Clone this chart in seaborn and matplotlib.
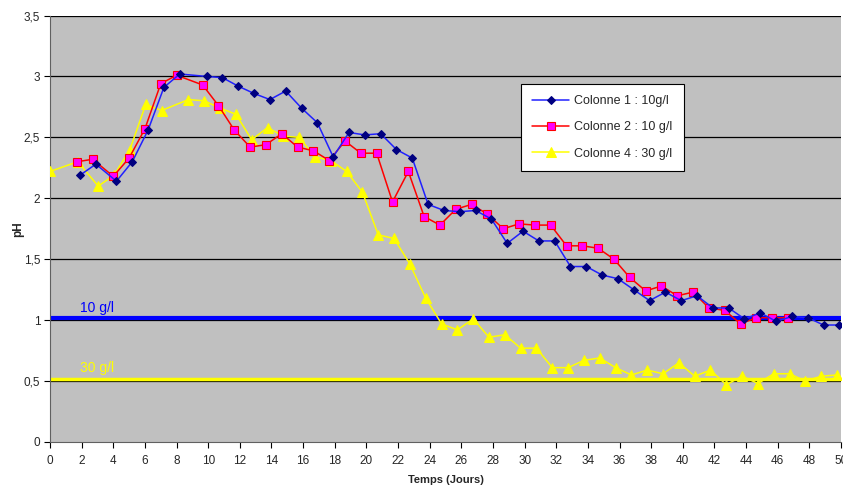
import matplotlib
matplotlib.use("Agg")
import matplotlib.pyplot as plt
import seaborn as sns

# Colonne 1 : 10g/l
c1_jours = [1.9, 2.9, 4.2, 5.2, 6.2, 7.2, 8.2, 9.9, 10.9, 11.9, 12.9, 13.9, 14.9, 15.9,
            16.9, 17.9, 18.9, 19.9, 20.9, 21.9, 22.9, 23.9, 24.9, 25.9, 26.9, 27.9, 28.9,
            29.9, 30.9, 31.9, 32.9, 33.9, 34.9, 35.9, 36.9, 37.9, 38.9, 39.9, 40.9, 41.9,
            42.9, 43.9, 44.9, 45.9, 46.9, 47.9, 48.9, 49.9]
c1_ph = [2.19, 2.28, 2.14, 2.30, 2.56, 2.91, 3.02, 3.00, 2.99, 2.92, 2.86, 2.81, 2.88, 2.74,
         2.62, 2.34, 2.54, 2.52, 2.53, 2.40, 2.33, 1.95, 1.90, 1.89, 1.90, 1.83, 1.63,
         1.73, 1.65, 1.65, 1.44, 1.44, 1.37, 1.34, 1.25, 1.16, 1.23, 1.16, 1.20, 1.10,
         1.10, 1.01, 1.06, 0.99, 1.03, 1.02, 0.96, 0.96]

# Colonne 2 : 10 g/l
c2_jours = [1.7, 2.7, 4.0, 5.0, 6.0, 7.0, 8.0, 9.65, 10.65, 11.65, 12.65, 13.65, 14.65,
            15.65, 16.65, 17.65, 18.65, 19.65, 20.65, 21.65, 22.65, 23.65, 24.65, 25.65,
            26.65, 27.65, 28.65, 29.65, 30.65, 31.65, 32.65, 33.65, 34.65, 35.65, 36.65,
            37.65, 38.65, 39.65, 40.65, 41.65, 42.65, 43.65, 44.65, 45.65, 46.65]
c2_ph = [2.30, 2.32, 2.18, 2.33, 2.57, 2.94, 3.01, 2.93, 2.76, 2.56, 2.42, 2.44, 2.53,
         2.42, 2.39, 2.31, 2.47, 2.37, 2.37, 1.97, 2.22, 1.85, 1.78, 1.91,
         1.95, 1.87, 1.75, 1.79, 1.78, 1.78, 1.61, 1.61, 1.59, 1.50, 1.35,
         1.24, 1.28, 1.20, 1.23, 1.10, 1.08, 0.97, 1.02, 1.02, 1.02]

# Colonne 4 : 30 g/l
c4_jours = [0, 1.75, 3.05, 4.05, 5.05, 6.05, 7.05, 8.75, 9.75, 10.75, 11.75, 12.75, 13.75,
            14.75, 15.75, 16.75, 17.75, 18.75, 19.75, 20.75, 21.75, 22.75, 23.75, 24.75,
            25.75, 26.75, 27.75, 28.75, 29.75, 30.75, 31.75, 32.75, 33.75, 34.75, 35.75,
            36.75, 37.75, 38.75, 39.75, 40.75, 41.75, 42.75, 43.75, 44.75, 45.75, 46.75,
            47.75, 48.75, 49.75]
c4_ph = [2.22, 2.30, 2.10, 2.19, 2.40, 2.77, 2.72, 2.81, 2.80, 2.74, 2.69, 2.48, 2.58,
         2.51, 2.50, 2.34, 2.31, 2.22, 2.05, 1.70, 1.67, 1.46, 1.18, 0.97,
         0.92, 1.01, 0.86, 0.88, 0.77, 0.77, 0.61, 0.61, 0.67, 0.69, 0.61,
         0.55, 0.59, 0.56, 0.65, 0.54, 0.59, 0.47, 0.54, 0.48, 0.56, 0.56,
         0.50, 0.54, 0.55]

# seuils
seuil_10 = 1.02
seuil_30 = 0.52

x_ticks = list(range(0, 51, 2))
y_ticks = [0, 0.5, 1, 1.5, 2, 2.5, 3, 3.5]
y_labels = ["0", "0,5", "1", "1,5", "2", "2,5", "3", "3,5"]

sns.set_style("white")
plt.rcParams["font.family"] = ["Liberation Sans", "DejaVu Sans"]

fig = plt.figure(figsize=(8.43, 4.87), dpi=100)
ax = fig.add_axes([50 / 843, 1 - 442 / 487, 791 / 843, 426.5 / 487])
ax.set_facecolor("#C0C0C0")

for y in y_ticks[1:]:
    ax.axhline(y, color="black", lw=0.9, zorder=1)

ax.axhline(seuil_10, color="#0000FF", lw=3, zorder=2)
ax.axhline(seuil_30, color="#FFFF00", lw=2.5, zorder=2)
ax.text(1.9, 1.1, "10 g/l", color="#0000FF", fontsize=10, va="center", zorder=3)
ax.text(1.9, 0.61, "30 g/l", color="#FFFF00", fontsize=10, va="center", zorder=3)

sns.lineplot(x=c1_jours, y=c1_ph, ax=ax, color="#2020FF", lw=1.1, marker="D",
             markersize=4.5, markerfacecolor="#000080", markeredgecolor="#000080",
             label="Colonne 1 : 10g/l", errorbar=None, zorder=5)
sns.lineplot(x=c2_jours, y=c2_ph, ax=ax, color="#FF0000", lw=1.1, marker="s",
             markersize=6, markerfacecolor="#FF00FF", markeredgecolor="#FF0000",
             markeredgewidth=0.8, label="Colonne 2 : 10 g/l", errorbar=None, zorder=4)
sns.lineplot(x=c4_jours, y=c4_ph, ax=ax, color="#FFFF00", lw=1.1, marker="^",
             markersize=6.5, markerfacecolor="#FFFF00", markeredgecolor="#FFFF00",
             label="Colonne 4 : 30 g/l", errorbar=None, zorder=3)

ax.set_xlim(0, 50)
ax.set_ylim(0, 3.5)
ax.set_xticks(x_ticks)
ax.set_yticks(y_ticks)
ax.set_yticklabels(y_labels)
ax.tick_params(axis="both", labelsize=8.5, length=4, width=0.8, color="black",
               direction="out", bottom=True, left=True)
ax.tick_params(axis="x", pad=5)
ax.tick_params(axis="y", pad=3)

for side in ["top", "right"]:
    ax.spines[side].set_visible(False)
ax.spines["left"].set_color("#606060")
ax.spines["bottom"].set_color("#606060")

ax.set_xlabel("Temps (Jours)", fontsize=8, fontweight="bold", labelpad=6)
ax.set_ylabel("pH", fontsize=8.5, fontweight="bold", labelpad=0)

leg = ax.legend(loc="upper left", bbox_to_anchor=(0.595, 0.84), fontsize=9,
                frameon=True, fancybox=False, shadow=False, borderpad=0.9,
                labelspacing=1.15, handlelength=3.0, handletextpad=0.4,
                borderaxespad=0)
leg.get_frame().set_edgecolor("black")
leg.get_frame().set_linewidth(0.8)
leg.get_frame().set_facecolor("white")
leg.get_frame().set_alpha(1)

fig.savefig("out.png", dpi=100)
